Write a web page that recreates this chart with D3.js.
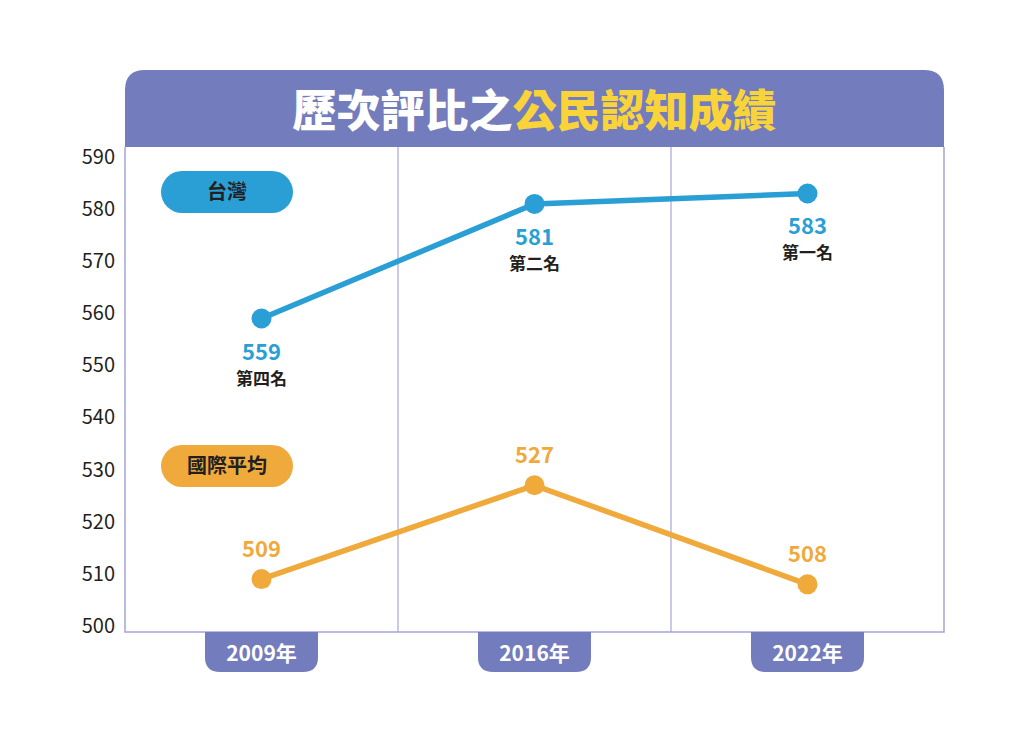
<!DOCTYPE html>
<html>
<head>
<meta charset="utf-8">
<script src="https://cdn.jsdelivr.net/npm/d3@7"></script>
<style>
  body { margin: 0; background: #fff; }
  svg { display: block; }
  text { font-family: "Noto Sans CJK TC", "Noto Sans", sans-serif; }
</style>
</head>
<body>
<div id="chart"></div>
<script>
// datos
const years = ["2009年", "2016年", "2022年"];
const taiwan = [559, 581, 583];
const intlAvg = [509, 527, 508];
const ranks = ["第四名", "第二名", "第一名"];
const yTicks = [500, 510, 520, 530, 540, 550, 560, 570, 580, 590];
const seriesNames = ["台灣", "國際平均"];
const titleWhite = "歷次評比之";
const titleYellow = "公民認知成績";

const width = 1024, height = 739;
const plotLeft = 125, plotRight = 944, plotTop = 147, plotBottom = 632;

const blue = "#2a9fd6", orange = "#f0a93b", purple = "#737cbc", grid = "#a3a7d6";

const svg = d3.select("#chart").append("svg")
  .attr("width", width).attr("height", height);

const x = d3.scaleBand().domain(years).range([plotLeft, plotRight]);
const y = d3.scaleLinear().domain([500, 590]).range([626, 157]);

// cabecera con esquinas redondeadas arriba
const r = 20, hTop = 70;
svg.append("path")
  .attr("d", `M${plotLeft},${plotTop} V${hTop + r} Q${plotLeft},${hTop} ${plotLeft + r},${hTop} H${plotRight - r} Q${plotRight},${hTop} ${plotRight},${hTop + r} V${plotTop} Z`)
  .attr("fill", purple);

const title = svg.append("text")
  .attr("x", (plotLeft + plotRight) / 2).attr("y", 127)
  .attr("text-anchor", "middle")
  .attr("font-size", 44).attr("font-weight", 900);
title.append("tspan").attr("fill", "#fff").text(titleWhite);
title.append("tspan").attr("fill", "#f8d33a").text(titleYellow);

// marco y lineas verticales
svg.append("path")
  .attr("d", `M${plotLeft},${plotTop} V${plotBottom} H${plotRight} V${plotTop}`)
  .attr("fill", "none").attr("stroke", grid).attr("stroke-width", 1.5);

svg.selectAll(".vgrid")
  .data(years.slice(1))
  .enter().append("line")
  .attr("x1", (d) => x(d)).attr("x2", (d) => x(d))
  .attr("y1", plotTop).attr("y2", plotBottom)
  .attr("stroke", grid).attr("stroke-width", 1.2);

// eje y
const yAxis = svg.append("g")
  .attr("transform", `translate(${plotLeft - 10},0)`)
  .call(d3.axisLeft(y).tickValues(yTicks).tickSize(0).tickPadding(0));
yAxis.select(".domain").remove();
yAxis.selectAll("text")
  .attr("font-size", 20).attr("fill", "#231f20")
  .attr("font-family", "'Open Sans', 'Noto Sans', sans-serif");

// etiquetas del eje x (pastillas)
const pw = 113, ph = 40, pr = 15;
const xg = svg.selectAll(".xpill").data(years).enter().append("g")
  .attr("transform", (d) => `translate(${x(d) + x.bandwidth() / 2},${plotBottom})`);
xg.append("path")
  .attr("d", `M${-pw / 2},0 H${pw / 2} V${ph - pr} Q${pw / 2},${ph} ${pw / 2 - pr},${ph} H${-pw / 2 + pr} Q${-pw / 2},${ph} ${-pw / 2},${ph - pr} Z`)
  .attr("fill", purple);
xg.append("text")
  .attr("y", 29).attr("text-anchor", "middle")
  .attr("fill", "#fff").attr("font-size", 21).attr("font-weight", 700)
  .text((d) => d);

// leyendas
const legendY = [192, 466];
const lg = svg.selectAll(".legend").data(seriesNames).enter().append("g")
  .attr("transform", (d, i) => `translate(227,${legendY[i]})`);
lg.append("rect")
  .attr("x", -66).attr("y", -21).attr("width", 132).attr("height", 42)
  .attr("rx", 21).attr("fill", (d, i) => (i === 0 ? blue : orange));
lg.append("text")
  .attr("y", 7).attr("text-anchor", "middle")
  .attr("font-size", 20).attr("font-weight", 700).attr("fill", "#231f20")
  .text((d) => d);

// series
const cx = (i) => x(years[i]) + x.bandwidth() / 2;
const line = d3.line().x((d, i) => cx(i)).y((d) => y(d));

function drawSeries(values, color, labelOffset) {
  svg.append("path").datum(values)
    .attr("d", line).attr("fill", "none")
    .attr("stroke", color).attr("stroke-width", 5.5);
  svg.selectAll(null).data(values).enter().append("circle")
    .attr("cx", (d, i) => cx(i)).attr("cy", (d) => y(d))
    .attr("r", 10).attr("fill", color);
  svg.selectAll(null).data(values).enter().append("text")
    .attr("x", (d, i) => cx(i)).attr("y", (d) => y(d) + labelOffset)
    .attr("text-anchor", "middle").attr("font-size", 22).attr("font-weight", 700)
    .attr("font-family", "'Open Sans', 'Noto Sans', sans-serif")
    .attr("fill", color).text((d) => d);
}

drawSeries(taiwan, blue, 41);
drawSeries(intlAvg, orange, -22);

svg.selectAll(".rank").data(taiwan).enter().append("text")
  .attr("x", (d, i) => cx(i)).attr("y", (d) => y(d) + 66)
  .attr("text-anchor", "middle").attr("font-size", 17).attr("font-weight", 700)
  .attr("fill", "#231f20")
  .text((d, i) => ranks[i]);
</script>
</body>
</html>
